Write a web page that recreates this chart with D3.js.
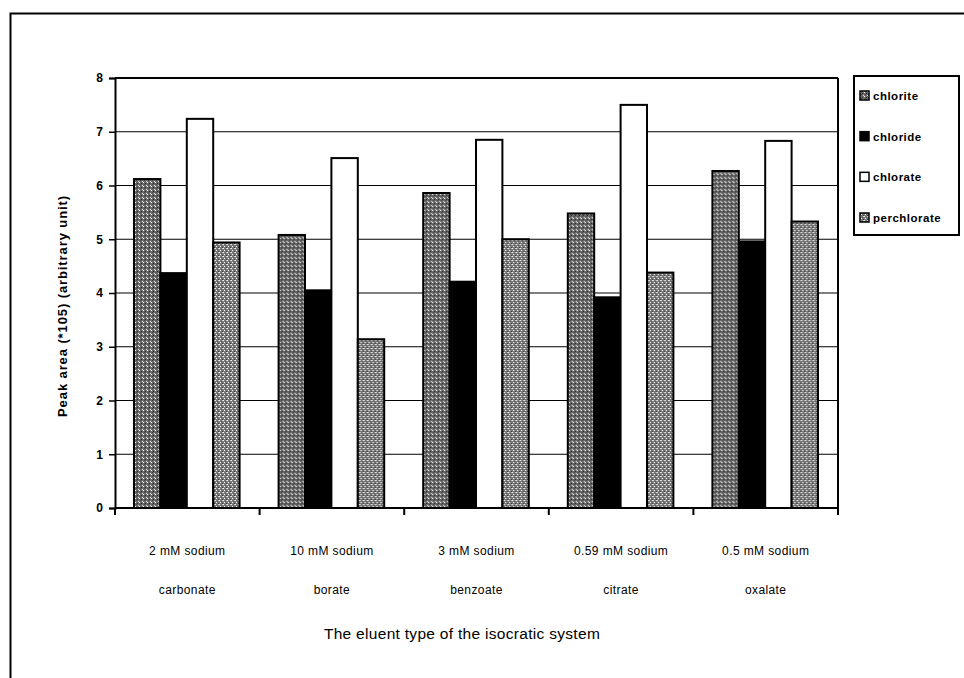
<!DOCTYPE html>
<html>
<head>
<meta charset="utf-8">
<script src="https://cdnjs.cloudflare.com/ajax/libs/d3/7.8.5/d3.min.js"></script>
<style>
  body { margin: 0; background: #fff; }
  svg text { font-family: "Liberation Sans", Arial, sans-serif; fill: #000; }
</style>
</head>
<body>
<div class="chart"></div>
<script>
var eluents = ["2 mM sodium|carbonate", "10 mM sodium|borate", "3 mM sodium|benzoate",
               "0.59 mM sodium|citrate", "0.5 mM sodium|oxalate"];
var anions = ["chlorite", "chloride", "chlorate", "perchlorate"];

var chlorite    = [6.12, 5.08, 5.86, 5.48, 6.27];
var chloride    = [4.37, 4.05, 4.21, 3.92, 4.96];
var chlorate    = [7.24, 6.51, 6.85, 7.50, 6.83];
var perchlorate = [4.94, 3.14, 5.00, 4.38, 5.33];
var yTicks = [0, 1, 2, 3, 4, 5, 6, 7, 8];

var seriesValues = { chlorite: chlorite, chloride: chloride, chlorate: chlorate, perchlorate: perchlorate };

var W = 964, H = 678;
var margin = { top: 78, left: 115, right: 126, bottom: 170 };
var width = W - margin.left - margin.right,   // 723
    height = H - margin.top - margin.bottom;  // 430

var svg = d3.select(".chart").append("svg")
    .attr("width", W)
    .attr("height", H);

// speckled fills, like the old printer dithering
var defs = svg.append("defs");
function speckle(id, base, dots) {
    var p = defs.append("pattern")
        .attr("id", id)
        .attr("patternUnits", "userSpaceOnUse")
        .attr("width", 4).attr("height", 4);
    p.append("rect").attr("width", 4).attr("height", 4).attr("fill", base);
    dots.forEach(function (d) {
        p.append("rect").attr("x", d[0]).attr("y", d[1]).attr("width", 1).attr("height", 1).attr("fill", d[2]);
    });
}
speckle("sp-chlorite", "#6a6a6a", [[0, 0, "#fff"], [2, 1, "#222"], [3, 3, "#ddd"], [1, 2, "#444"]]);
speckle("sp-perchlorate", "#7a7a7a", [[1, 0, "#fff"], [3, 1, "#333"], [0, 2, "#eee"], [2, 3, "#555"], [3, 2, "#ccc"]]);

var fills = { chlorite: "url(#sp-chlorite)", chloride: "#000", chlorate: "#fff", perchlorate: "url(#sp-perchlorate)" };

// outer frame (only left and top show in the picture)
svg.append("path")
    .attr("d", "M10.5," + H + " V13.5 H" + W)
    .attr("fill", "none")
    .attr("stroke", "#000")
    .attr("stroke-width", 2);

var g = svg.append("g")
    .attr("transform", "translate(" + margin.left + "," + margin.top + ")");

var x0 = d3.scaleBand()
    .domain(eluents)
    .range([0, width]);

var x1 = d3.scaleBand()
    .domain(anions)
    .range([19, x0.bandwidth() - 20]);

var y = d3.scaleLinear()
    .domain([0, 8])
    .range([height, 0]);

// gridlines
g.append("g")
    .selectAll("line")
    .data(yTicks.slice(1))
    .enter().append("line")
    .attr("x1", 0).attr("x2", width)
    .attr("y1", function (d) { return y(d); })
    .attr("y2", function (d) { return y(d); })
    .attr("stroke", "#000")
    .attr("stroke-width", function (d) { return d === 8 ? 2 : 1.2; });

// right frame of plot
g.append("line")
    .attr("x1", width).attr("x2", width)
    .attr("y1", 0).attr("y2", height + 6)
    .attr("stroke", "#000").attr("stroke-width", 2);

// bars
var group = g.selectAll(".grp")
    .data(eluents)
    .enter().append("g")
    .attr("class", "grp")
    .attr("transform", function (d) { return "translate(" + x0(d) + ",0)"; });

group.selectAll("rect")
    .data(function (d, i) {
        return anions.map(function (a) { return { key: a, value: seriesValues[a][i] }; });
    })
    .enter().append("rect")
    .attr("x", function (d) { return x1(d.key); })
    .attr("y", function (d) { return y(d.value); })
    .attr("width", x1.bandwidth())
    .attr("height", function (d) { return height - y(d.value); })
    .attr("fill", function (d) { return fills[d.key]; })
    .attr("stroke", "#000")
    .attr("stroke-width", 2);

// y axis
var yAxis = d3.axisLeft(y).tickValues(yTicks).tickSize(6).tickFormat(d3.format("d"));
var ya = g.append("g").call(yAxis);
ya.select(".domain").attr("stroke-width", 2);
ya.selectAll(".tick line").attr("stroke-width", 1.5);
ya.selectAll(".tick text")
    .attr("x", -12)
    .style("font-size", "12px")
    .style("font-weight", "bold");

// x axis: ticks on the category boundaries
var xa = g.append("g").attr("transform", "translate(0," + height + ")");
xa.append("line")
    .attr("x1", 0).attr("x2", width)
    .attr("stroke", "#000").attr("stroke-width", 2);
xa.selectAll(".xt")
    .data(eluents.concat([null]))
    .enter().append("line")
    .attr("class", "xt")
    .attr("x1", function (d) { return d ? x0(d) : width; })
    .attr("x2", function (d) { return d ? x0(d) : width; })
    .attr("y1", 0).attr("y2", 7)
    .attr("stroke", "#000").attr("stroke-width", 2);

var lbl = xa.selectAll(".xl")
    .data(eluents)
    .enter().append("text")
    .attr("class", "xl")
    .attr("text-anchor", "middle")
    .style("font-size", "12px")
    .style("letter-spacing", "0.4px");
lbl.append("tspan")
    .attr("x", function (d) { return x0(d) + x0.bandwidth() / 2; })
    .attr("y", 47)
    .text(function (d) { return d.split("|")[0]; });
lbl.append("tspan")
    .attr("x", function (d) { return x0(d) + x0.bandwidth() / 2; })
    .attr("y", 86)
    .text(function (d) { return d.split("|")[1]; });

// axis titles
svg.append("text")
    .attr("x", 462)
    .attr("y", 639)
    .attr("text-anchor", "middle")
    .style("font-size", "15.5px")
    .style("letter-spacing", "0.3px")
    .text("The eluent type of the isocratic system");

svg.append("text")
    .attr("transform", "translate(67,306) rotate(-90)")
    .attr("text-anchor", "middle")
    .style("font-size", "13px")
    .style("font-weight", "bold")
    .style("letter-spacing", "0.9px")
    .text("Peak area (*105) (arbitrary unit)");

// legend
var lg = svg.append("g").attr("class", "legend");
lg.append("rect")
    .attr("x", 854).attr("y", 76)
    .attr("width", 105).attr("height", 159)
    .attr("fill", "#fff")
    .attr("stroke", "#000").attr("stroke-width", 2);

var legendY = d3.scalePoint().domain(anions).range([96, 218]);
var item = lg.selectAll(".item")
    .data(anions)
    .enter().append("g")
    .attr("class", "item")
    .attr("transform", function (d) { return "translate(0," + legendY(d) + ")"; });
item.append("rect")
    .attr("x", 860).attr("y", -5)
    .attr("width", 9).attr("height", 9)
    .attr("fill", function (d) { return fills[d]; })
    .attr("stroke", "#000").attr("stroke-width", 1.5);
item.append("text")
    .attr("x", 873).attr("y", 4)
    .style("font-size", "11.5px")
    .style("font-weight", "bold")
    .style("letter-spacing", "0.5px")
    .text(function (d) { return d; });
</script>
</body>
</html>
